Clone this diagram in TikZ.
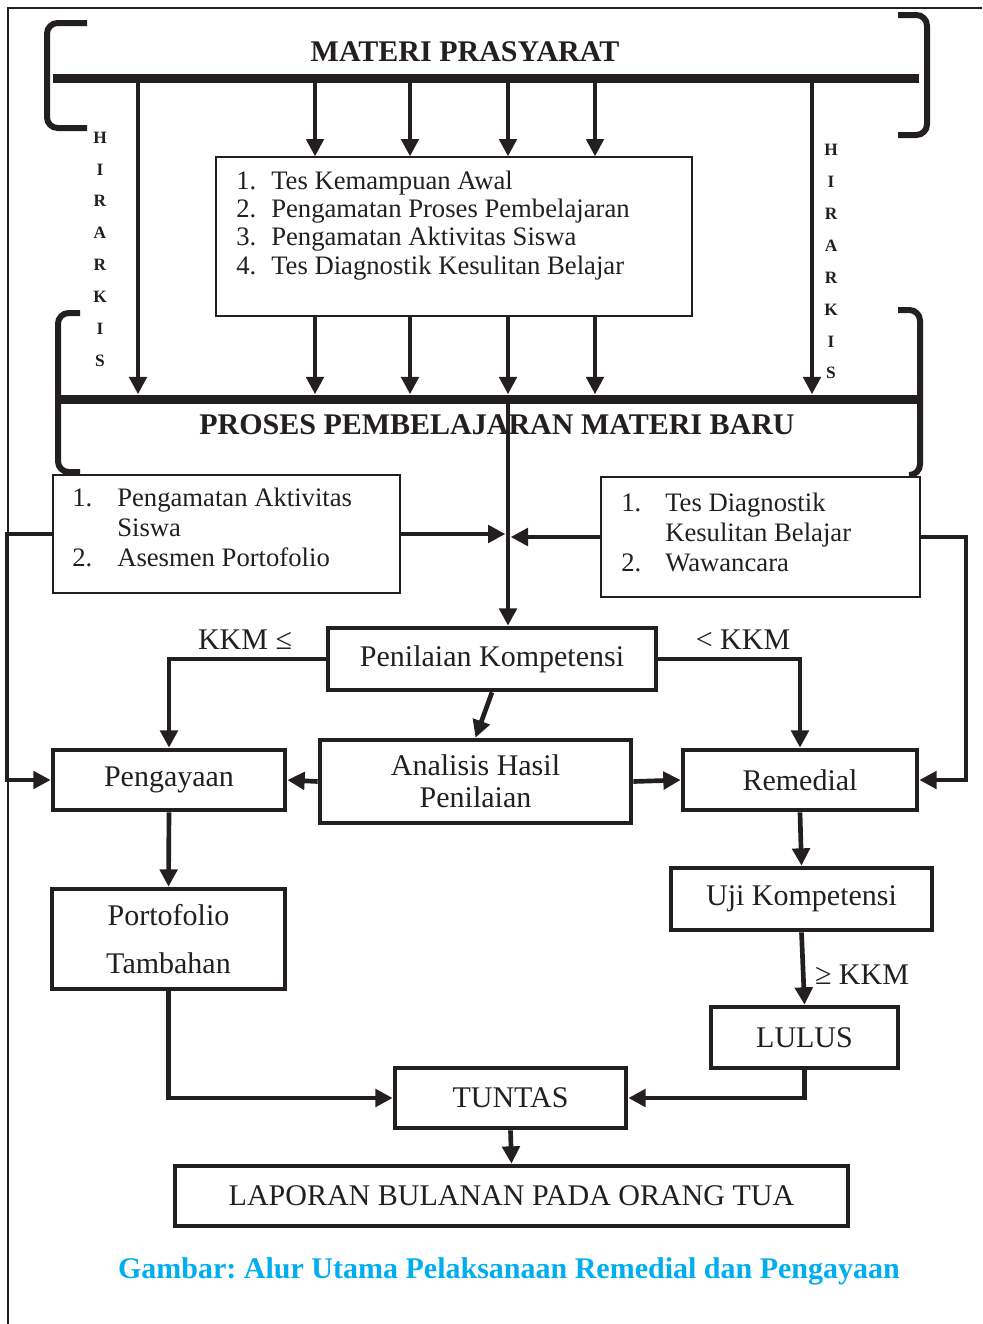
\documentclass[tikz,border=0pt]{standalone}
\usepackage{fontspec}
\setmainfont{Liberation Serif}
\usepackage{xcolor}
\usepackage{tikz}
\usetikzlibrary{arrows.meta}

\definecolor{hitam}{RGB}{35,31,32}
\definecolor{birulangit}{RGB}{0,174,239}
\newcommand{\teksbesar}{\fontsize{22.5}{24}\selectfont}
\newcommand{\tekslist}{\fontsize{20}{21.25}\selectfont}
\newcommand{\tekssisi}{\fontsize{20}{22.5}\selectfont}
\frenchspacing

\begin{document}
\begin{tikzpicture}[x=0.75pt,y=0.75pt,yscale=-1,xscale=1,color=hitam,
  kotaktipis/.style={draw, line width=1pt, inner sep=0pt},
  kotaktebal/.style={draw, line width=3.5pt, inner sep=0pt, font=\teksbesar, align=center},
  palang/.style={fill=hitam, inner sep=0pt, minimum height=6.75pt},
  kurung/.style={line width=4.5pt, rounded corners=8pt},
  panah/.style={line width=3.5pt, -{Triangle[length=13pt,width=13pt]}},
  panahtipis/.style={line width=3pt, -{Triangle[length=13pt,width=13pt]}},
  hurufhirarki/.style={font=\fontsize{13}{13}\selectfont\bfseries, inner sep=0pt}]
\useasboundingbox (0,0) rectangle (982,1324);

%Shape: Frame
\draw[line width=2pt] (8,1324) -- (8,8) -- (982,8);

%Shape: Brackets
\draw[kurung] (87,23) -- (47,23) -- (47,128) -- (87,128);
\draw[kurung] (898,15) -- (927,15) -- (927,135) -- (898,135);
\draw[kurung] (80,313) -- (58,313) -- (58,472) -- (80,472);
\draw[kurung] (898,310) -- (920,310) -- (920,475) -- (910,475);

%Shape: Bars
\node[palang, minimum width=649.5pt] (palangA) at (486,78) {};
\node[palang, minimum width=646.5pt] (palangB) at (489,399) {};

% Text Node
\node[font=\teksbesar\bfseries] (judulatas) at (465,52) {MATERI PRASYARAT};
\node[font=\teksbesar\bfseries] (judulproses) at (497,425) {PROSES PEMBELAJARAN MATERI BARU};

% Text Node: HIRARKIS
\foreach \huruf [count=\i] in {H,I,R,A,R,K,I,S} {
  \node[hurufhirarki] (hkiri\i) at (100,{137.5+(\i-1)*31.9}) {\huruf};
  \node[hurufhirarki] (hkanan\i) at (831,{150+(\i-1)*31.9}) {\huruf};
}

%Shape: Rectangle (list boxes)
\node[kotaktipis, minimum width=357pt, minimum height=119.25pt] (daftar) at (454,236.5) {};
\node[anchor=base west, inner sep=0pt, font=\tekslist] (isidaftar) at (236,189)
  {\begin{tabular}[t]{@{}p{26.25pt}@{}l@{}}
   1.&Tes Kemampuan Awal\\
   2.&Pengamatan Proses Pembelajaran\\
   3.&Pengamatan Aktivitas Siswa\\
   4.&Tes Diagnostik Kesulitan Belajar
   \end{tabular}};
\node[kotaktipis, minimum width=260.25pt, minimum height=88.5pt] (kiri) at (226.5,534) {};
\node[anchor=base west, inner sep=0pt, font=\tekssisi] (isikiri) at (72,506)
  {\begin{tabular}[t]{@{}p{33.75pt}@{}l@{}}
   1.&Pengamatan Aktivitas\\
   &Siswa\\
   2.&Asesmen Portofolio
   \end{tabular}};
\node[kotaktipis, minimum width=239.25pt, minimum height=90pt] (kanan) at (760.5,537) {};
\node[anchor=base west, inner sep=0pt, font=\tekssisi] (isikanan) at (621,511)
  {\begin{tabular}[t]{@{}p{33pt}@{}l@{}}
   1.&Tes Diagnostik\\
   &Kesulitan Belajar\\
   2.&Wawancara
   \end{tabular}};

%Shape: Rectangle (flow boxes)
\node[kotaktebal, minimum width=246pt, minimum height=46.5pt] (nilai) at (492,659) {Penilaian Kompetensi};
\node[kotaktebal, minimum width=233.25pt, minimum height=62.25pt] (analisis) at (475.5,781.5) {Analisis Hasil\\Penilaian};
\node[kotaktebal, minimum width=174pt, minimum height=45pt] (pengayaan) at (169,780) {Pengayaan};
\node[kotaktebal, minimum width=175.5pt, minimum height=45pt] (remedial) at (800,780) {Remedial};
\node[kotaktebal, minimum width=174.75pt, minimum height=75pt] (portofolio) at (168.5,939) {Portofolio\\[12pt]Tambahan};
\node[kotaktebal, minimum width=195.75pt, minimum height=46.5pt] (uji) at (801.5,899) {Uji Kompetensi};
\node[kotaktebal, minimum width=140.25pt, minimum height=45.75pt] (lulus) at (804.5,1037.5) {LULUS};
\node[kotaktebal, minimum width=173.25pt, minimum height=45pt] (tuntas) at (510.5,1098) {TUNTAS};
\node[kotaktebal, minimum width=504.75pt, minimum height=45pt] (laporan) at (511.5,1196) {LAPORAN BULANAN PADA ORANG TUA};

% Text Node: labels
\node[font=\teksbesar] (kkmkiri) at (245,640) {KKM ≤};
\node[font=\teksbesar] (kkmkanan) at (743,640) {< KKM};
\node[font=\teksbesar] (kkmbawah) at (862,975) {≥ KKM};

%Straight Lines
\foreach \xx [count=\i] in {315,410,508,595} \coordinate (t\i) at (\xx,0);
\coordinate (kiriatas) at (138,0);
\coordinate (kananatas) at (812,0);
\coordinate (tengah) at (508,0);
\coordinate (lingkarkiri) at (7,0);
\coordinate (lingkarkanan) at (966,0);

\draw[panahtipis] (palangA.south -| kiriatas) -- (palangB.north -| kiriatas);
\draw[panahtipis] (palangA.south -| kananatas) -- (palangB.north -| kananatas);
\foreach \i in {1,...,4} {
  \draw[panahtipis] (palangA.south -| t\i) -- (daftar.north -| t\i);
  \draw[panahtipis] (daftar.south -| t\i) -- (palangB.north -| t\i);
}
\draw[panah] (palangB.center -| tengah) -- (nilai.north -| tengah);
\draw[panah, shorten >=2pt] (kiri.east) -- (kiri.east -| tengah);
\draw[panah, shorten >=2pt] (kanan.west) -- (kanan.west -| tengah);
\draw[panahtipis] (kiri.west) -- (kiri.west -| lingkarkiri) |- (pengayaan.west);
\draw[panahtipis] (kanan.east) -- (kanan.east -| lingkarkanan) |- (remedial.east);

\draw[panah] (nilai.west) -| (pengayaan.north);
\draw[panah] (nilai.east) -| (remedial.north);
\draw[panah] (nilai.south) -- (analisis.north);
\draw[panah] (analisis.west) -- (pengayaan.east);
\draw[panah] (analisis.east) -- (remedial.west);
\draw[panah] (pengayaan.south) -- (portofolio.north);
\draw[panah] (remedial.south) -- (uji.north);
\draw[panah] (uji.south) -- (lulus.north);
\draw[panah] (portofolio.south) |- (tuntas.west);
\draw[panah] (lulus.south) |- (tuntas.east);
\draw[panah] (tuntas.south) -- (laporan.north);

% Text Node: caption
\node[font=\teksbesar\bfseries, text=birulangit] (keterangan) at (509,1271) {Gambar: Alur Utama Pelaksanaan Remedial dan Pengayaan};

\end{tikzpicture}
\end{document}
